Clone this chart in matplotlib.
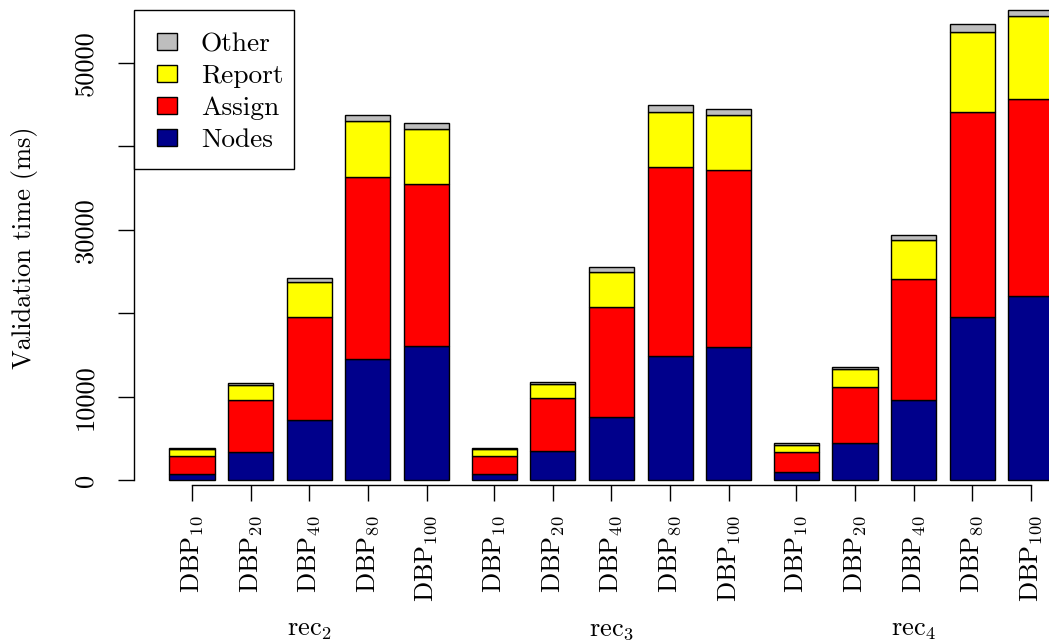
import matplotlib
matplotlib.use("Agg")
import matplotlib.pyplot as plt
from matplotlib.transforms import blended_transform_factory
from matplotlib.patches import Rectangle
import numpy as np

plt.rcParams["font.family"] = "cmr10"
plt.rcParams["mathtext.fontset"] = "cm"
plt.rcParams["axes.formatter.use_mathtext"] = True

# Validation time breakdown (ms) per dataset group and DBP size
groups = ["rec$_2$", "rec$_3$", "rec$_4$"]
sizes = ["10", "20", "40", "80", "100"]

nodes = [720, 3360, 7190, 14540, 16060,
         720, 3480, 7550, 14860, 16010,
         1000, 4430, 9590, 19530, 22050]
assign = [2160, 6230, 12340, 21810, 19450,
          2160, 6350, 13180, 22720, 21140,
          2360, 6750, 14540, 24570, 23640]
report = [880, 1800, 4190, 6710, 6590,
          840, 1720, 4190, 6560, 6630,
          840, 2120, 4670, 9590, 9910]
other = [160, 280, 520, 760, 680,
         160, 280, 600, 800, 680,
         240, 310, 600, 960, 720]

series = [("Nodes", nodes, "#00008B"),
          ("Assign", assign, "#FF0000"),
          ("Report", report, "#FFFF00"),
          ("Other", other, "#BEBEBE")]

W, H, DPI = 1049, 642, 100
fig = plt.figure(figsize=(W / DPI, H / DPI), dpi=DPI)

# plot region in pixel coordinates
left_px, bottom_px, right_px, top_px = 134, 485, 1049, 0
ax = fig.add_axes([left_px / W, 1 - bottom_px / H,
                   (right_px - left_px) / W, (bottom_px - top_px) / H])

# bar centres: 0.3 gap within a group, 0.5 between groups (bar width 1)
n_per = len(sizes)
x = []
pos = 0.0
for g in range(len(groups)):
    for i in range(n_per):
        x.append(pos)
        pos += 1.3
    pos += 0.2
x = np.array(x)

bottom = np.zeros(len(x))
for name, vals, col in series:
    v = np.array(vals, dtype=float)
    ax.bar(x, v, bottom=bottom, width=1.0, color=col,
           edgecolor="black", linewidth=1.0)
    bottom += v

ax.set_xlim(-1.286, 19.0)
ax.set_ylim(-563, 57555)

fs = 19
for s in ["top", "right"]:
    ax.spines[s].set_visible(False)
ax.spines["left"].set_bounds(0, 50000)
ax.spines["bottom"].set_bounds(x[0], x[-1])
ax.spines["left"].set_linewidth(1.0)
ax.spines["bottom"].set_linewidth(1.0)

yt = [0, 10000, 20000, 30000, 40000, 50000]
ylabs = ["0", "10000", "", "30000", "", "50000"]
ax.set_yticks(yt)
ax.set_yticklabels(ylabs, rotation=90, va="center", fontsize=fs)
ax.tick_params(axis="y", direction="out", length=11.5, width=1.0, pad=15)

ax.set_xticks(x)
ax.set_xticklabels(["DBP$_{%s}$" % s for s in sizes] * len(groups),
                   rotation=90, fontsize=fs)
ax.tick_params(axis="x", direction="out", length=11.5, width=1.0, pad=10)

# group labels under each block of bars
tr = blended_transform_factory(ax.transData, fig.transFigure)
for g, name in enumerate(groups):
    cx = x[g * n_per:(g + 1) * n_per].mean()
    ax.text(cx, 1 - 636 / H, name, transform=tr, ha="center",
            va="baseline", fontsize=fs)

fig.text(25 / W, 1 - 248 / H, "Validation time (ms)", rotation=90,
         ha="center", va="center", fontsize=fs)

# legend drawn in figure pixel coordinates
def fx(px):
    return px / W

def fy(py):
    return 1 - py / H

box_l, box_t, box_r, box_b = 134, 10, 293.7, 169.3
fig.add_artist(Rectangle((fx(box_l), fy(box_b)), fx(box_r) - fx(box_l),
                         fy(box_t) - fy(box_b), transform=fig.transFigure,
                         facecolor="white", edgecolor="black",
                         linewidth=1.0, zorder=5))
row0, row_step = 41.7, 32.0
for k, (name, _, col) in enumerate(series[::-1]):
    cy = row0 + k * row_step
    fig.add_artist(Rectangle((fx(157.3), fy(cy + 8.3)), fx(177) - fx(157.3),
                             fy(cy - 8.3) - fy(cy + 8.3),
                             transform=fig.transFigure, facecolor=col,
                             edgecolor="black", linewidth=1.0, zorder=6))
    fig.text(fx(201), fy(cy + 9.3), name, ha="left", va="baseline",
             fontsize=19.7, zorder=6)

fig.savefig("out.png", dpi=DPI)
